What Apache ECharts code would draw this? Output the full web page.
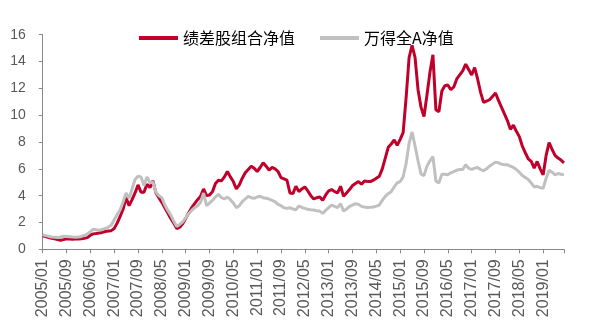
<!DOCTYPE html>
<html>
<head>
<meta charset="utf-8">
<script src="https://cdn.jsdelivr.net/npm/echarts@6/dist/echarts.min.js"></script>
<style>html,body{margin:0;padding:0;background:#fff}#c{width:593px;height:331px}</style>
</head>
<body>
<div id="c"></div>
<script>
// Monthly net values, 2005/01 .. 2019/08
const seriesNames = ['绩差股组合净值', '万得全A净值'];
const poorStock = [
1.00,0.95,0.88,0.82,0.78,0.72,0.67,0.72,0.78,0.76,0.75,0.76,
0.76,0.79,0.83,0.87,1.05,1.15,1.18,1.22,1.26,1.33,1.37,1.39,
1.55,1.95,2.45,3.00,3.85,3.25,3.70,4.20,4.80,4.25,4.25,4.85,
4.60,5.10,4.20,3.85,3.50,3.10,2.70,2.30,1.95,1.55,1.65,1.90,
2.30,2.70,3.10,3.40,3.70,3.95,4.50,4.00,4.05,4.30,4.90,5.15,
5.10,5.40,5.80,5.40,5.05,4.50,4.80,5.30,5.70,5.95,6.20,6.05,
5.80,6.10,6.45,6.20,5.90,6.10,6.00,5.80,5.35,5.25,5.15,4.20,
4.15,4.70,4.30,4.50,4.65,4.35,4.00,3.75,3.85,3.90,3.65,4.05,
4.35,4.45,4.30,4.20,4.70,3.95,4.20,4.45,4.75,4.90,5.05,4.85,
5.10,5.05,5.05,5.15,5.30,5.45,6.00,6.80,7.60,7.85,8.15,7.75,
8.20,8.70,11.30,14.30,15.20,14.30,11.90,10.60,9.90,11.50,13.20,14.50,
10.40,10.25,11.80,12.20,12.25,11.90,12.10,12.70,13.00,13.30,13.80,13.40,
13.00,13.55,12.70,11.70,10.95,11.05,11.15,11.40,11.65,11.10,10.60,10.10,
9.60,8.95,9.25,8.80,8.40,7.70,7.20,6.75,6.55,6.05,6.55,6.00,
5.55,7.00,7.95,7.45,7.00,6.80,6.65,6.45
];
const windA = [
1.08,1.02,0.96,0.92,0.89,0.88,0.92,0.97,0.95,0.93,0.91,0.90,
0.91,0.96,1.03,1.14,1.32,1.49,1.46,1.43,1.48,1.56,1.64,1.80,
2.20,2.60,2.95,3.55,4.20,3.80,4.50,5.20,5.45,5.40,4.75,5.40,
4.95,5.00,4.25,4.00,3.85,3.30,2.90,2.55,2.10,1.70,1.85,2.05,
2.35,2.65,2.90,3.10,3.25,3.50,4.20,3.25,3.45,3.65,3.90,4.10,
3.85,3.75,3.90,3.70,3.45,3.10,3.25,3.55,3.75,3.95,3.85,3.80,
3.90,3.95,3.85,3.80,3.75,3.65,3.55,3.35,3.25,3.10,3.05,3.10,
3.00,2.95,3.23,3.12,3.05,2.98,2.95,2.93,2.88,2.85,2.68,2.90,
3.10,3.30,3.20,3.10,3.40,2.85,3.00,3.20,3.30,3.40,3.35,3.20,
3.15,3.12,3.13,3.15,3.22,3.30,3.65,3.95,4.15,4.30,4.65,4.95,
5.05,5.40,6.40,7.90,8.75,7.70,6.60,5.60,5.50,6.20,6.60,6.90,
5.10,4.95,5.60,5.60,5.55,5.70,5.80,5.90,5.95,5.95,6.30,6.05,
5.95,6.05,6.10,5.95,5.85,6.00,6.20,6.35,6.50,6.45,6.35,6.30,
6.30,6.20,6.10,5.95,5.75,5.50,5.35,5.20,4.95,4.65,4.70,4.60,
4.55,5.30,5.90,5.75,5.55,5.65,5.60,5.55
];
const yTicks = [0, 2, 4, 6, 8, 10, 12, 14, 16];

const months = [];
for (let y = 2005; y <= 2019; y++) {
  for (let m = 1; m <= 12; m++) {
    if (months.length < poorStock.length) months.push(y + '/' + (m < 10 ? '0' + m : m));
  }
}
const lastIdx = months.length - 1;

const chart = echarts.init(document.getElementById('c'));
chart.setOption({
  animation: false,
  backgroundColor: '#fff',
  legend: {
    top: 25,
    left: 134,
    itemWidth: 39,
    itemHeight: 4,
    itemGap: 25,
    icon: 'rect',
    textStyle: { fontSize: 16, color: '#000', fontFamily: 'Noto Sans CJK SC' },
    data: seriesNames
  },
  grid: { left: 42.7, right: 29, top: 34.7, bottom: 81.7, containLabel: false },
  xAxis: {
    type: 'category',
    boundaryGap: false,
    data: months,
    axisLine: { lineStyle: { color: '#898989', width: 1 } },
    axisTick: { interval: (i) => i % 8 === 0 || i === lastIdx, length: 4, lineStyle: { color: '#898989' } },
    axisLabel: {
      interval: (i) => i % 8 === 0,
      rotate: 90,
      fontSize: 16,
      color: '#595959',
      margin: 10,
      fontFamily: 'Liberation Sans'
    },
    splitLine: { show: false }
  },
  yAxis: {
    type: 'value',
    min: yTicks[0],
    max: yTicks[yTicks.length - 1],
    interval: 2,
    axisLine: { show: true, lineStyle: { color: '#898989', width: 1 } },
    axisTick: { show: true, length: 4, lineStyle: { color: '#898989' } },
    axisLabel: { fontSize: 14, color: '#595959', margin: 17, fontFamily: 'Liberation Sans' },
    splitLine: { show: false }
  },
  series: [
    {
      name: seriesNames[0],
      type: 'line',
      data: poorStock,
      showSymbol: false,
      symbol: 'none',
      lineStyle: { width: 3, color: '#C0002B' },
      itemStyle: { color: '#C0002B' }
    },
    {
      name: seriesNames[1],
      type: 'line',
      data: windA,
      showSymbol: false,
      symbol: 'none',
      lineStyle: { width: 3, color: '#C0C0C0' },
      itemStyle: { color: '#C0C0C0' }
    }
  ]
});
</script>
</body>
</html>
